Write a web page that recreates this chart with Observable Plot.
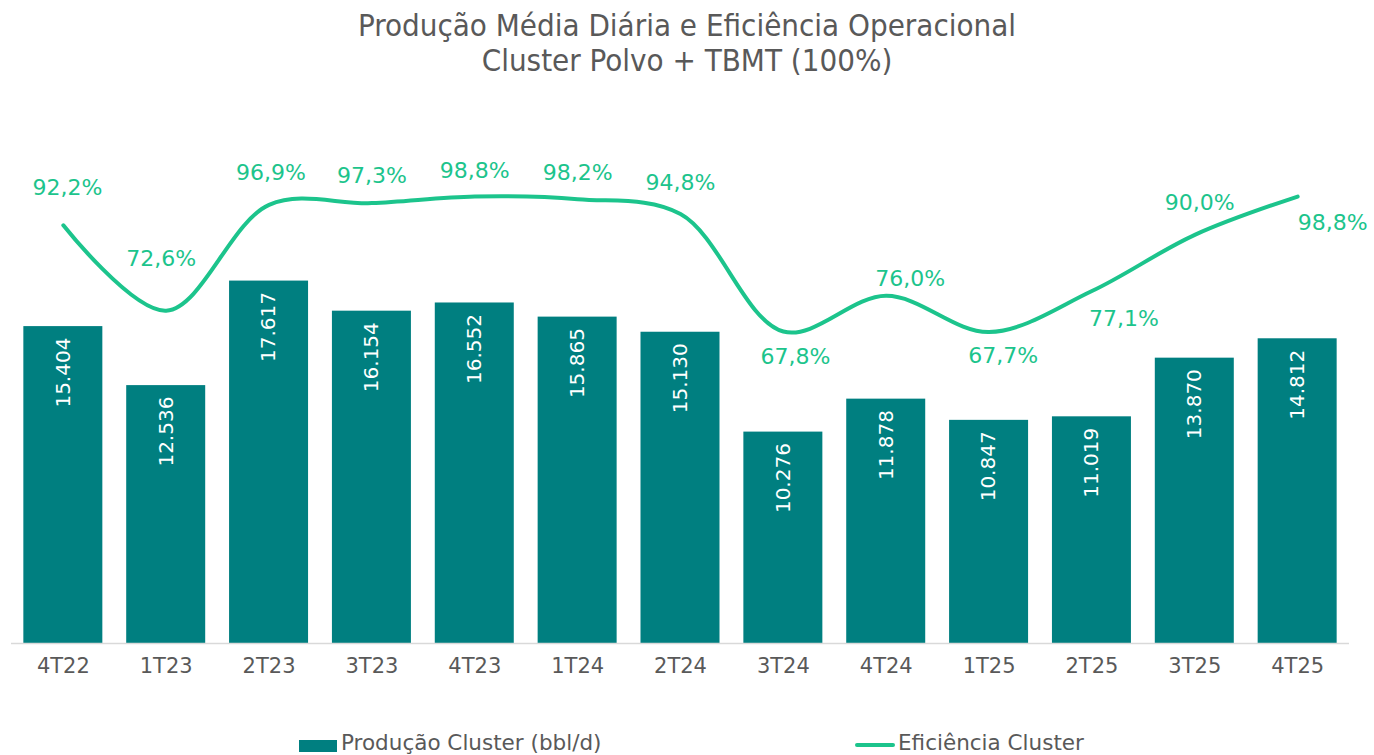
<!DOCTYPE html>
<html><head><meta charset="utf-8">
<script src="https://cdn.jsdelivr.net/npm/d3@7"></script>
<script src="https://cdn.jsdelivr.net/npm/@observablehq/plot@0.6"></script>
<style>
body{margin:0;background:#fff;width:1374px;height:755px;overflow:hidden;position:relative;}
#title{position:absolute;top:8px;left:0;width:1374px;text-align:center;color:#595959;font-family:"DejaVu Sans Condensed",sans-serif;font-size:31px;line-height:35px;}
#chart{position:absolute;top:90px;left:0;}
.lg{position:absolute;color:#595959;font-family:"DejaVu Sans",sans-serif;font-size:21.5px;line-height:22px;white-space:nowrap;}
.sw{position:absolute;}
</style>
</head><body>
<div id="title">Produção Média Diária e Eficiência Operacional<br>Cluster Polvo + TBMT (100%)</div>
<div id="chart"></div>
<div class="sw" style="left:299px;top:740px;width:38px;height:12px;background:#007F80"></div>
<div class="lg" style="left:341px;top:732px;">Produção Cluster (bbl/d)</div>
<div class="sw" style="left:855px;top:743px;width:40px;height:4px;background:#1CC48C;border-radius:2px"></div>
<div class="lg" style="left:898px;top:732px;">Eficiência Cluster</div>
<script>
const quarters = ["4T22","1T23","2T23","3T23","4T23","1T24","2T24","3T24","4T24","1T25","2T25","3T25","4T25"];
const producao = [15404, 12536, 17617, 16154, 16552, 15865, 15130, 10276, 11878, 10847, 11019, 13870, 14812];
const eficiencia = [92.2, 72.6, 96.9, 97.3, 98.8, 98.2, 94.8, 67.8, 76.0, 67.7, 77.1, 90.0, 98.8];

const rows = quarters.map((q, i) => ({q, prod: producao[i], eff: eficiencia[i]}));

const barColor = "#007F80";
const lineColor = "#1CC48C";
const numFont = "'DejaVu Sans',sans-serif";

const yMax = 22360;
// secondary axis (efficiency, %) mapped onto the primary bar scale
const effToY = d3.scaleLinear().domain([-3.84, 101.8]).range([0, yMax]);

const loc = d3.formatLocale({decimal: ",", thousands: ".", grouping: [3], currency: ["R$", ""]});
const fmtProd = loc.format(",d");
const fmtEff = v => v.toFixed(1).replace(".", ",") + "%";

// label placement offsets (px) for the efficiency labels
const effLabelOffset = [[4,-37],[-5,-52],[2,-32],[0,-27],[0,-26],[0,-26],[0,-31],[12,25],[24,-17],[14,24],[32,28],[5,-32],[35,26]];

const plot = Plot.plot({
  width: 1374, height: 600,
  marginTop: 93, marginBottom: 47, marginLeft: 11, marginRight: 25,
  style: {fontFamily: numFont, background: "#fff", color: "#595959", overflow: "visible"},
  x: {type: "band", domain: quarters, paddingInner: 0.232, paddingOuter: 0.12, round: false, label: null},
  y: {domain: [0, yMax], axis: null},
  marks: [
    Plot.barY(rows, {x: "q", y: "prod", fill: barColor}),
    Plot.ruleY([0], {stroke: "#D9D9D9", strokeWidth: 1.5}),
    Plot.axisX({tickSize: 0, tickPadding: 15, fontSize: 21, fill: "#595959", label: null}),
    Plot.text(rows, {x: "q", y: "prod", text: d => fmtProd(d.prod), rotate: -90, textAnchor: "end", dy: 11, fill: "white", fontSize: 20}),
    Plot.line(rows, {x: "q", y: d => effToY(d.eff), curve: "catmull-rom", stroke: lineColor, strokeWidth: 4}),
    ...rows.map((r, i) => Plot.text([r], {x: "q", y: d => effToY(d.eff), text: d => fmtEff(d.eff), dx: effLabelOffset[i][0], dy: effLabelOffset[i][1], fill: lineColor, fontSize: 22}))
  ]
});
document.getElementById("chart").appendChild(plot);
</script>
</body></html>
